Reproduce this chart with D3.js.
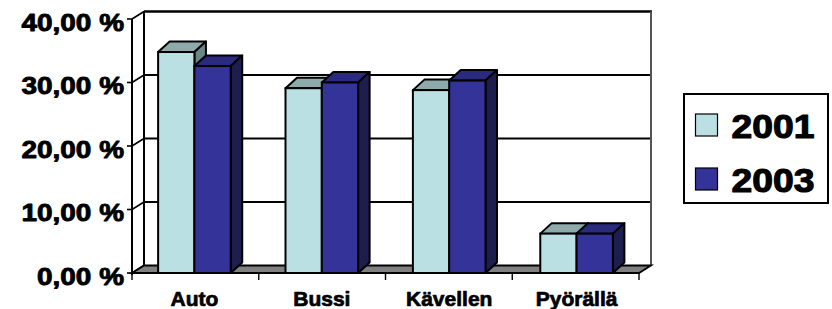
<!DOCTYPE html>
<html><head><meta charset="utf-8">
<script src="https://cdn.jsdelivr.net/npm/d3@7"></script>
<style>body{margin:0;background:#fff}svg{display:block}</style>
</head><body><svg id="c" width="832" height="309"></svg>
<script>
const categories = ["Auto", "Bussi", "Kävellen", "Pyörällä"];
const years = ["2001", "2003"];
const values2001 = [34.8, 29.1, 28.8, 6.2];
const values2003 = [32.6, 30.0, 30.3, 6.2];
const yTicks = [0, 10, 20, 30, 40];
const yTickLabels = ["0,00 %", "10,00 %", "20,00 %", "30,00 %", "40,00 %"];

const colors = {
  "2001": {front: "#BBE0E3", top: "#8EAAAB", side: "#6A8788"},
  "2003": {front: "#333399", top: "#2A2A7E", side: "#1E1E4E"}
};
const FONT = "Liberation Sans";

const svg = d3.select("#c");
const X0 = 132, X1 = 639, Y0 = 273, YT = 19;
const wdx = 12, wdy = -7.5;   // wall depth
const bdx = 11.5, bdy = -10.5; // bar depth

const y = d3.scaleLinear().domain([0, 40]).range([Y0, YT]);
const x0 = d3.scaleBand().domain(categories).range([X0, X1]).paddingInner(0.43).paddingOuter(0.205);
const x1 = d3.scaleBand().domain(years).range([0, x0.bandwidth()]);
const step = (X1 - X0) / categories.length;

function label(parent, tx, ty, sx, size, anchor, str, sw) {
  return parent.append("g").attr("transform", `translate(${tx},${ty}) scale(${sx},1)`)
    .append("text").attr("text-anchor", anchor)
    .attr("font-family", FONT).attr("font-weight", "bold").attr("font-size", size)
    .attr("fill", "#000").attr("stroke", "#000").attr("stroke-width", sw)
    .attr("stroke-linejoin", "round")
    .text(str);
}

// back wall
svg.append("rect").attr("x", X0 + wdx).attr("y", y(40) + wdy)
  .attr("width", X1 - X0).attr("height", y(0) - y(40))
  .attr("fill", "#fff").attr("stroke", "none");
svg.selectAll(".grid").data(yTicks.filter(d => d > 0 && d < 40)).enter().append("line")
  .attr("x1", X0 + wdx).attr("x2", X1 + wdx)
  .attr("y1", d => y(d) + wdy).attr("y2", d => y(d) + wdy)
  .attr("stroke", "#000").attr("stroke-width", 2.2);
svg.append("line").attr("x1", X0 + wdx).attr("x2", X1 + wdx + 1)
  .attr("y1", y(40) + wdy).attr("y2", y(40) + wdy).attr("stroke", "#000").attr("stroke-width", 2.4);
svg.append("line").attr("x1", X1 + wdx).attr("x2", X1 + wdx)
  .attr("y1", y(40) + wdy).attr("y2", y(0) + wdy).attr("stroke", "#555").attr("stroke-width", 2);
svg.append("line").attr("x1", X0 + wdx).attr("x2", X0 + wdx)
  .attr("y1", y(40) + wdy).attr("y2", y(0) + wdy).attr("stroke", "#000").attr("stroke-width", 2);

// left wall
svg.append("line").attr("x1", X0).attr("x2", X0).attr("y1", y(40)).attr("y2", Y0 + 2)
  .attr("stroke", "#000").attr("stroke-width", 2);
svg.selectAll(".diag").data(yTicks).enter().append("line")
  .attr("x1", X0).attr("y1", d => y(d)).attr("x2", X0 + wdx).attr("y2", d => y(d) + wdy)
  .attr("stroke", "#000").attr("stroke-width", 1.6);
svg.selectAll(".ytick").data(yTicks).enter().append("line")
  .attr("x1", X0 - 5).attr("x2", X0).attr("y1", d => y(d)).attr("y2", d => y(d))
  .attr("stroke", "#000").attr("stroke-width", 1.6);

// floor
svg.append("polygon")
  .attr("points", [[X0, Y0], [X1, Y0], [X1 + wdx, Y0 + wdy], [X0 + wdx, Y0 + wdy]].map(p => p.join(",")).join(" "))
  .attr("fill", "#808080").attr("stroke", "#000").attr("stroke-width", 1.8);
svg.selectAll(".xtick").data(d3.range(categories.length + 1)).enter().append("line")
  .attr("x1", i => X0 + i * step).attr("x2", i => X0 + i * step)
  .attr("y1", Y0).attr("y2", Y0 + 7).attr("stroke", "#000").attr("stroke-width", 1.4);

// bars
const bars = [];
categories.forEach((c, i) => {
  bars.push({cat: c, year: "2001", v: values2001[i]});
  bars.push({cat: c, year: "2003", v: values2003[i]});
});
const g = svg.append("g");
bars.forEach(b => {
  const xl = x0(b.cat) + x1(b.year), xr = xl + x1.bandwidth();
  const yt = y(b.v), yb = Y0;
  const col = colors[b.year];
  const pts = a => a.map(p => p.join(",")).join(" ");
  g.append("polygon").attr("points", pts([[xl, yt], [xr, yt], [xr + bdx, yt + bdy], [xl + bdx, yt + bdy]]))
    .attr("fill", col.top).attr("stroke", "#000").attr("stroke-width", 2).attr("stroke-linejoin", "round");
  g.append("polygon").attr("points", pts([[xr, yt], [xr + bdx, yt + bdy], [xr + bdx, yb + bdy], [xr, yb]]))
    .attr("fill", col.side).attr("stroke", "#000").attr("stroke-width", 2).attr("stroke-linejoin", "round");
  g.append("rect").attr("x", xl).attr("y", yt).attr("width", xr - xl).attr("height", yb - yt)
    .attr("fill", col.front).attr("stroke", "#000").attr("stroke-width", 2);
});

// y labels
yTicks.forEach((t, i) => label(svg, 124, y(t) + 11.5, 1.14, 24.5, "end", yTickLabels[i], 0.9));
// category labels
categories.forEach(c => label(svg, x0(c) + x0.bandwidth() / 2, 305.5, 1.05, 20, "middle", c, 0.7));

// legend
svg.append("rect").attr("x", 684).attr("y", 94).attr("width", 144).attr("height", 109)
  .attr("fill", "#fff").attr("stroke", "#000").attr("stroke-width", 2);
years.forEach((yr, i) => {
  const yy = 114 + i * 54;
  svg.append("rect").attr("x", 695.5).attr("y", yy).attr("width", 22).attr("height", 22)
    .attr("fill", colors[yr].front).attr("stroke", "#000").attr("stroke-width", 1.2);
  label(svg, 731.5, yy + 23.5, 1.13, 33, "start", yr, 1.1);
});
</script></body></html>
